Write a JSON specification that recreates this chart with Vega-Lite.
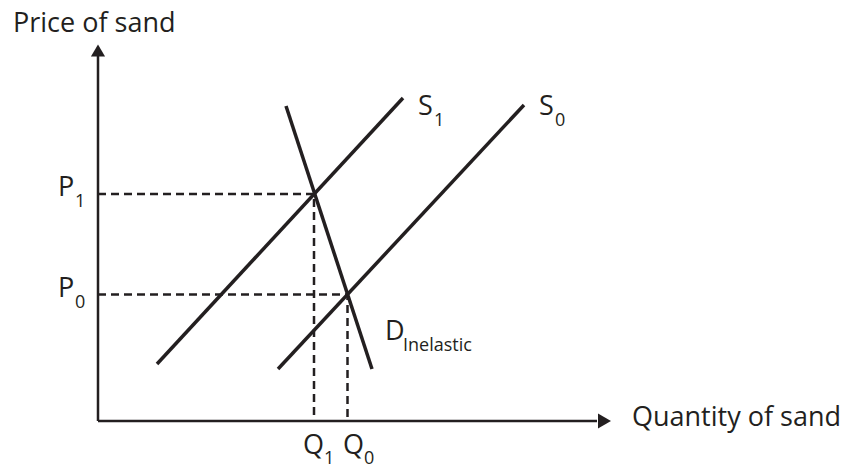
{
  "$schema": "https://vega.github.io/schema/vega-lite/v6.json",
  "width": 848,
  "height": 465,
  "autosize": {"type": "none"},
  "padding": 0,
  "background": "white",
  "config": {"view": {"stroke": null}},
  "encoding": {
    "x": {"field": "x", "type": "quantitative", "scale": {"domain": [-98, 750], "nice": false, "zero": false}, "axis": null},
    "y": {"field": "y", "type": "quantitative", "scale": {"domain": [-44, 421], "nice": false, "zero": false}, "axis": null}
  },
  "layer": [
    {
      "data": {"values": [
        {"g": "yaxis", "i": 0, "x": 0, "y": 0},
        {"g": "yaxis", "i": 1, "x": 0, "y": 365},
        {"g": "xaxis", "i": 0, "x": 0, "y": 0},
        {"g": "xaxis", "i": 1, "x": 499, "y": 0}
      ]},
      "mark": {"type": "line", "color": "#231f20", "strokeWidth": 2.5},
      "encoding": {"detail": {"field": "g"}, "order": {"field": "i"}}
    },
    {
      "data": {"values": [{"x": 0, "y": 370.5}]},
      "mark": {"type": "point", "shape": "triangle-up", "filled": true, "size": 200, "color": "#231f20", "opacity": 1}
    },
    {
      "data": {"values": [{"x": 506.5, "y": 0}]},
      "mark": {"type": "point", "shape": "triangle-right", "filled": true, "size": 225, "color": "#231f20", "opacity": 1}
    },
    {
      "data": {"values": [
        {"g": "P1", "i": 0, "x": 0, "y": 227},
        {"g": "P1", "i": 1, "x": 216, "y": 227},
        {"g": "P1", "i": 2, "x": 216, "y": 0},
        {"g": "P0", "i": 0, "x": 0, "y": 126.5},
        {"g": "P0", "i": 1, "x": 249.5, "y": 126.5},
        {"g": "P0", "i": 2, "x": 249.5, "y": 0}
      ]},
      "mark": {"type": "line", "color": "#231f20", "strokeWidth": 2.5, "strokeDash": [8, 5]},
      "encoding": {"detail": {"field": "g"}, "order": {"field": "i"}}
    },
    {
      "data": {"values": [
        {"g": "S1", "i": 0, "x": 59, "y": 57},
        {"g": "S1", "i": 1, "x": 305, "y": 323},
        {"g": "S0", "i": 0, "x": 180, "y": 52},
        {"g": "S0", "i": 1, "x": 426, "y": 316},
        {"g": "D", "i": 0, "x": 188, "y": 315},
        {"g": "D", "i": 1, "x": 274, "y": 52}
      ]},
      "mark": {"type": "line", "color": "#231f20", "strokeWidth": 3.5},
      "encoding": {"detail": {"field": "g"}, "order": {"field": "i"}}
    },
    {
      "data": {"values": [
        {"label": "Price of sand", "x": -85, "y": 389},
        {"label": "Quantity of sand", "x": 534, "y": -5},
        {"label": "S", "x": 320, "y": 306},
        {"label": "S", "x": 441, "y": 306},
        {"label": "P", "x": -40, "y": 225},
        {"label": "P", "x": -40, "y": 124},
        {"label": "Q", "x": 205, "y": -33},
        {"label": "Q", "x": 245, "y": -33},
        {"label": "D", "x": 287, "y": 81}
      ]},
      "mark": {"type": "text", "font": "Open Sans", "fontSize": 27, "align": "left", "baseline": "alphabetic", "color": "#231f20"},
      "encoding": {"text": {"field": "label"}}
    },
    {
      "data": {"values": [
        {"label": "1", "x": 336, "y": 295},
        {"label": "0", "x": 457, "y": 295},
        {"label": "1", "x": -23, "y": 214},
        {"label": "0", "x": -23, "y": 113},
        {"label": "1", "x": 226, "y": -43},
        {"label": "0", "x": 266, "y": -43},
        {"label": "Inelastic", "x": 305, "y": 70}
      ]},
      "mark": {"type": "text", "font": "Open Sans", "fontSize": 18, "align": "left", "baseline": "alphabetic", "color": "#231f20"},
      "encoding": {"text": {"field": "label"}}
    }
  ]
}
